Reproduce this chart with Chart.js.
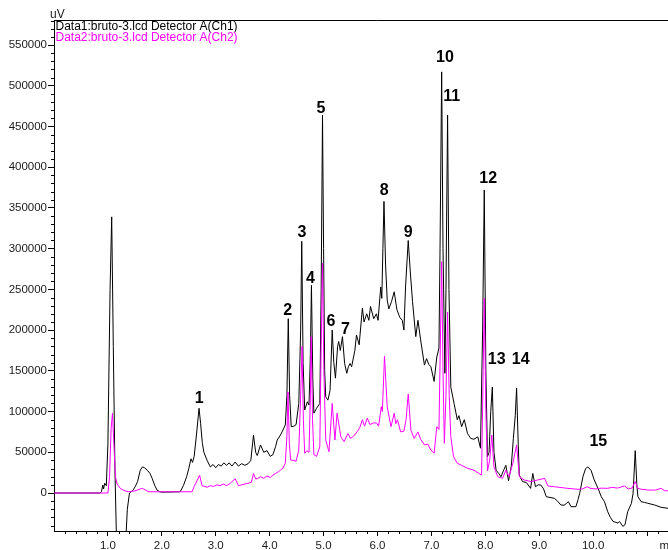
<!DOCTYPE html>
<html>
<head>
<meta charset="utf-8">
<title>bruto-3 chromatogram</title>
<script src="https://cdn.jsdelivr.net/npm/chart.js@4/dist/chart.umd.min.js"></script>
<style>
  html, body { margin: 0; padding: 0; background: #fff; overflow: hidden; }
  canvas { display: block; }
</style>
</head>
<body>
<canvas id="chrom" width="720" height="550"></canvas>
<script>
// Detector A, channel 1: [retention time (min), signal (uV)]
const ch1Trace = [
  [0.00, 0], [0.85, 0], [0.88, 1500], [0.905, 9800], [0.92, 5000], [0.94, 12000], [0.97, 9000],
  [1.00, 60000], [1.04, 250000], [1.07, 339000], [1.10, 180000], [1.13, 30000], [1.16, -60000],
  [1.24, -150000], [1.33, -60000], [1.36, -20000], [1.40, 0], [1.46, 3000], [1.505, 7700],
  [1.55, 14000], [1.60, 28000], [1.64, 32000], [1.68, 31000], [1.73, 28000], [1.78, 24000],
  [1.82, 18000], [1.87, 9000], [1.91, 3700], [1.96, 1500], [2.00, 1000], [2.34, 1500],
  [2.40, 9000], [2.46, 20000], [2.50, 30000], [2.54, 42000], [2.57, 37600], [2.60, 45000],
  [2.64, 70000], [2.69, 104000], [2.72, 85000], [2.75, 62000], [2.78, 50000], [2.84, 40000],
  [2.90, 32000], [2.95, 35000], [3.00, 31000], [3.05, 35000], [3.10, 33000], [3.15, 37000],
  [3.20, 34000], [3.25, 37000], [3.30, 33000], [3.36, 38000], [3.42, 33000], [3.48, 36000],
  [3.54, 34000], [3.60, 36000], [3.65, 40000], [3.70, 71000], [3.74, 50000], [3.77, 46000],
  [3.83, 59000], [3.89, 50000], [3.95, 52000], [4.01, 45000], [4.06, 47000], [4.11, 57000],
  [4.14, 65000], [4.19, 70000], [4.23, 75000], [4.29, 83500], [4.32, 120000], [4.345, 214000],
  [4.37, 120000], [4.40, 81400], [4.45, 82000], [4.49, 84000], [4.54, 110000], [4.575, 200000],
  [4.595, 309000], [4.62, 160000], [4.65, 102000], [4.70, 112000], [4.73, 108000], [4.755, 170000],
  [4.775, 255000], [4.80, 140000], [4.82, 98000], [4.87, 104000], [4.93, 110000], [4.955, 250000],
  [4.98, 464000], [5.00, 300000], [5.02, 150000], [5.04, 118000], [5.08, 114000], [5.12, 126000],
  [5.16, 200000], [5.19, 160000], [5.22, 141000], [5.26, 180000], [5.28, 186000], [5.31, 175000],
  [5.35, 192000], [5.39, 159000], [5.43, 147000], [5.46, 155000], [5.49, 159000], [5.52, 155000],
  [5.58, 175000], [5.61, 194000], [5.66, 182000], [5.72, 227000], [5.75, 210000], [5.80, 220000],
  [5.84, 212000], [5.87, 229000], [5.93, 214000], [5.98, 220000], [6.01, 212000], [6.06, 253000],
  [6.08, 239000], [6.10, 300000], [6.12, 358000], [6.15, 280000], [6.18, 237000], [6.21, 226000],
  [6.26, 235000], [6.31, 247000], [6.36, 225000], [6.40, 218000], [6.42, 215000], [6.46, 212000],
  [6.49, 200000], [6.52, 253000], [6.57, 310000], [6.61, 270000], [6.65, 235000], [6.71, 192000],
  [6.75, 212000], [6.80, 188000], [6.87, 157000], [6.91, 165000], [6.95, 158000], [6.99, 155000],
  [7.05, 137000], [7.10, 167000], [7.14, 178000], [7.16, 300000], [7.19, 517000], [7.215, 300000],
  [7.25, 147000], [7.27, 250000], [7.30, 464000], [7.325, 250000], [7.36, 130000], [7.42, 110000],
  [7.48, 90000], [7.51, 95000], [7.56, 81400], [7.61, 90000], [7.67, 73000], [7.73, 67000],
  [7.79, 66000], [7.86, 69000], [7.91, 55000], [7.95, 200000], [7.98, 372000], [8.01, 150000],
  [8.04, 44600], [8.07, 50000], [8.10, 100000], [8.13, 130000], [8.16, 50000], [8.20, 28000],
  [8.25, 24000], [8.29, 20000], [8.34, 28000], [8.38, 34000], [8.43, 15000], [8.48, 32000],
  [8.52, 67000], [8.555, 95000], [8.58, 129000], [8.61, 60000], [8.63, 22000], [8.69, 14000],
  [8.76, 13000], [8.84, 5700], [8.88, 24000], [8.93, 7700], [8.98, 10000], [9.03, 9800],
  [9.08, 5000], [9.13, -4500], [9.20, -5500], [9.28, -6500], [9.34, -10000], [9.40, -14700],
  [9.46, -15000], [9.50, -13000], [9.54, -10700], [9.59, -16800], [9.68, -16800], [9.72, -8000],
  [9.75, -400], [9.81, 20000], [9.86, 30000], [9.90, 32000], [9.96, 28000], [10.02, 16000],
  [10.09, 5700], [10.15, -4500], [10.21, -10700], [10.27, -23000], [10.32, -30000], [10.37, -35000],
  [10.42, -36000], [10.46, -37000], [10.49, -35000], [10.55, -41000], [10.59, -39000], [10.64, -23000],
  [10.71, -12600], [10.74, -400], [10.78, 52000], [10.81, 10000], [10.83, -4500], [10.89, -10700],
  [10.95, -11500], [11.01, -12600], [11.14, -14700], [11.26, -17600], [11.39, -18800], [11.60, -19500],
  [12.00, -20000]
];

// Detector A, channel 2: [retention time (min), signal (uV)]
const ch2Trace = [
  [0.00, 0], [1.00, 0], [1.03, 20000], [1.06, 80000], [1.085, 98000], [1.11, 60000], [1.14, 20000],
  [1.17, 11000], [1.23, 5700], [1.30, 3000], [1.38, 1600], [1.50, 2500], [1.60, 5000], [1.64, 5700],
  [1.70, 3500], [1.75, 1600], [1.80, 1500], [2.56, 1500], [2.60, 8000], [2.63, 12000], [2.70, 22000],
  [2.745, 9000], [2.80, 8000], [2.84, 7000], [2.90, 9000], [2.96, 8000], [3.02, 10000], [3.08, 9000],
  [3.14, 11000], [3.20, 9000], [3.27, 12000], [3.36, 17500], [3.42, 9000], [3.48, 10000], [3.54, 11000],
  [3.60, 12000], [3.66, 13000], [3.70, 24000], [3.74, 17000], [3.78, 18000], [3.83, 20000], [3.89, 18000],
  [3.95, 21000], [4.01, 19000], [4.06, 22000], [4.11, 24000], [4.16, 26000], [4.20, 28000], [4.25, 31000],
  [4.29, 36500], [4.32, 70000], [4.34, 124000], [4.365, 60000], [4.39, 40500], [4.44, 40000], [4.49, 39000],
  [4.54, 52800], [4.575, 120000], [4.60, 180000], [4.625, 90000], [4.65, 48700], [4.69, 52000], [4.73, 50000],
  [4.755, 120000], [4.77, 192000], [4.795, 90000], [4.82, 47000], [4.87, 45000], [4.93, 56800], [4.955, 180000],
  [4.98, 282000], [5.005, 150000], [5.04, 65000], [5.10, 50700], [5.16, 110000], [5.21, 65000], [5.25, 98000],
  [5.32, 69000], [5.38, 63000], [5.45, 73000], [5.50, 67000], [5.56, 70000], [5.62, 75000], [5.67, 80000],
  [5.72, 90000], [5.76, 82000], [5.81, 92000], [5.86, 84000], [5.92, 86000], [5.98, 86000], [6.02, 82000],
  [6.07, 106000], [6.09, 100000], [6.13, 168000], [6.18, 106000], [6.25, 81400], [6.31, 98000], [6.34, 85000],
  [6.37, 90000], [6.43, 75000], [6.49, 76000], [6.53, 90000], [6.57, 121500], [6.62, 77000], [6.68, 67000],
  [6.75, 75000], [6.80, 66000], [6.87, 59000], [6.93, 60000], [6.99, 52800], [7.05, 48700], [7.10, 81400],
  [7.14, 78000], [7.17, 200000], [7.19, 284000], [7.215, 150000], [7.24, 61000], [7.27, 120000], [7.30, 222000],
  [7.33, 120000], [7.36, 69000], [7.41, 44600], [7.48, 36500], [7.56, 34000], [7.67, 30300], [7.79, 28000],
  [7.88, 24000], [7.93, 22000], [7.96, 150000], [7.98, 239000], [8.01, 100000], [8.04, 27000], [8.08, 40000],
  [8.12, 71000], [8.16, 32000], [8.23, 20000], [8.32, 18000], [8.38, 28000], [8.44, 20000], [8.51, 36500],
  [8.58, 59000], [8.63, 20000], [8.72, 16000], [8.85, 14000], [8.97, 16000], [9.10, 18000], [9.16, 8600],
  [9.28, 7700], [9.53, 5700], [9.72, 4500], [9.80, 5000], [9.89, 7700], [9.95, 5500], [10.05, 5000],
  [10.15, 6000], [10.27, 5700], [10.35, 7000], [10.45, 6000], [10.52, 7500], [10.58, 8600], [10.65, 5000],
  [10.72, 6000], [10.78, 14000], [10.83, 5700], [10.90, 4500], [11.01, 3700], [11.15, 3500], [11.26, 5700],
  [11.32, 3000], [11.39, 2500], [12.00, 2500]
];

// Channel names shown at the top of the plot
const channelNames = [
  'Data1:bruto-3.lcd Detector A(Ch1)',
  'Data2:bruto-3.lcd Detector A(Ch2)'
];

// Axis ticks
const timeTicks = [1, 2, 3, 4, 5, 6, 7, 8, 9, 10, 11];
const timeLabels = ['1.0', '2.0', '3.0', '4.0', '5.0', '6.0', '7.0', '8.0', '9.0', '10.0', ''];
const timeUnit = 'min';
const timeUnitAt = 11.4;
const signalTicks = [0, 50000, 100000, 150000, 200000, 250000, 300000, 350000, 400000, 450000, 500000, 550000];
const signalUnit = 'uV';

// Numbered peaks: label anchor [retention time (min), signal (uV)]
const peakNumbers = ['1', '2', '3', '4', '5', '6', '7', '8', '9', '10', '11', '12', '13', '14', '15'];
const peakAnchors = [
  [2.695, 116000], [4.334, 224000], [4.600, 319800], [4.757, 263300], [4.952, 471400],
  [5.137, 209900], [5.406, 200100], [6.125, 370800], [6.571, 319800], [7.252, 534700],
  [7.376, 486200], [8.054, 386100], [8.210, 163300], [8.656, 163300], [10.095, 63200]
];

const FONT = "'Liberation Sans', Arial, Helvetica, sans-serif";

const toPoints = trace => trace.map(([x, y]) => ({ x, y }));

// Frame top edge, minor ticks, unit, channel names and peak numbers
const decorations = {
  id: 'decorations',
  afterDraw(chart) {
    const { ctx, chartArea: a, scales: { x, y } } = chart;
    ctx.save();
    ctx.strokeStyle = '#000';
    ctx.lineWidth = 1;

    // top edge of the frame
    ctx.beginPath();
    ctx.moveTo(a.left, a.top + 0.5);
    ctx.lineTo(a.right, a.top + 0.5);
    ctx.stroke();

    // minor ticks on the time axis (every 0.2 min)
    ctx.beginPath();
    for (let i = 1; i <= 60; i++) {
      if (i % 5 === 0) continue;
      const px = Math.round(x.getPixelForValue(i * 0.2)) + 0.5;
      ctx.moveTo(px, a.bottom);
      ctx.lineTo(px, a.bottom + 3);
    }
    // minor ticks on the signal axis (every 10000 uV)
    for (let v = -40000; v <= 580000; v += 10000) {
      if (v % 50000 === 0) continue;
      const py = Math.round(y.getPixelForValue(v)) + 0.5;
      ctx.moveTo(a.left - 3, py);
      ctx.lineTo(a.left, py);
    }
    ctx.stroke();

    // signal unit above the axis
    ctx.fillStyle = '#1a1a1a';
    ctx.font = `12px ${FONT}`;
    ctx.textAlign = 'left';
    ctx.textBaseline = 'alphabetic';
    ctx.fillText(signalUnit, a.left - 4, a.top - 2.5);

    // channel names
    ctx.fillStyle = '#000000';
    ctx.fillText(channelNames[0], a.left + 1.5, a.top + 9.5);
    ctx.fillStyle = '#ff00ff';
    ctx.fillText(channelNames[1], a.left + 1.5, a.top + 20.5);

    // peak numbers
    ctx.fillStyle = '#000';
    ctx.font = `bold 16px ${FONT}`;
    ctx.textAlign = 'center';
    ctx.textBaseline = 'middle';
    peakAnchors.forEach(([t, v], i) => {
      ctx.fillText(peakNumbers[i], x.getPixelForValue(t), y.getPixelForValue(v));
    });
    ctx.restore();
  }
};

new Chart(document.getElementById('chrom'), {
  type: 'line',
  data: {
    datasets: [
      {
        label: channelNames[1],
        data: toPoints(ch2Trace),
        borderColor: '#ff00ff',
        borderWidth: 1,
        pointRadius: 0,
        tension: 0,
        fill: false,
        order: 1
      },
      {
        label: channelNames[0],
        data: toPoints(ch1Trace),
        borderColor: '#000000',
        borderWidth: 1,
        pointRadius: 0,
        tension: 0,
        fill: false,
        order: 2
      }
    ]
  },
  options: {
    responsive: false,
    animation: false,
    events: [],
    layout: { padding: { top: 20, right: 19, left: 0, bottom: 0 } },
    plugins: { legend: { display: false }, tooltip: { enabled: false } },
    scales: {
      x: {
        type: 'linear',
        min: 0,
        max: 12,
        afterBuildTicks: s => {
          s.ticks = timeTicks.map(v => ({ value: v })).concat([{ value: timeUnitAt }]);
        },
        afterFit: s => { s.height = 19; },
        border: { display: true, color: '#000', width: 1 },
        grid: {
          display: true,
          drawOnChartArea: false,
          drawTicks: true,
          tickLength: 5,
          tickColor: c => (c.tick && c.tick.value === timeUnitAt) ? 'rgba(0,0,0,0)' : '#000'
        },
        ticks: {
          autoSkip: false,
          maxRotation: 0,
          padding: 3,
          color: '#1a1a1a',
          font: { family: FONT, size: 11.5 },
          callback: v => {
            if (v === timeUnitAt) return timeUnit;
            const i = timeTicks.indexOf(v);
            return i >= 0 ? timeLabels[i] : '';
          }
        }
      },
      y: {
        type: 'linear',
        min: -46650,
        max: 580700,
        afterBuildTicks: s => {
          s.ticks = signalTicks.map(v => ({ value: v }));
        },
        afterFit: s => { s.width = 54; },
        border: { display: true, color: '#000', width: 1 },
        grid: {
          display: true,
          drawOnChartArea: false,
          drawTicks: true,
          tickLength: 6,
          tickColor: '#000'
        },
        ticks: {
          padding: 1,
          color: '#1a1a1a',
          font: { family: FONT, size: 11.5 },
          callback: v => String(v)
        }
      }
    }
  },
  plugins: [decorations]
});
</script>
</body>
</html>
